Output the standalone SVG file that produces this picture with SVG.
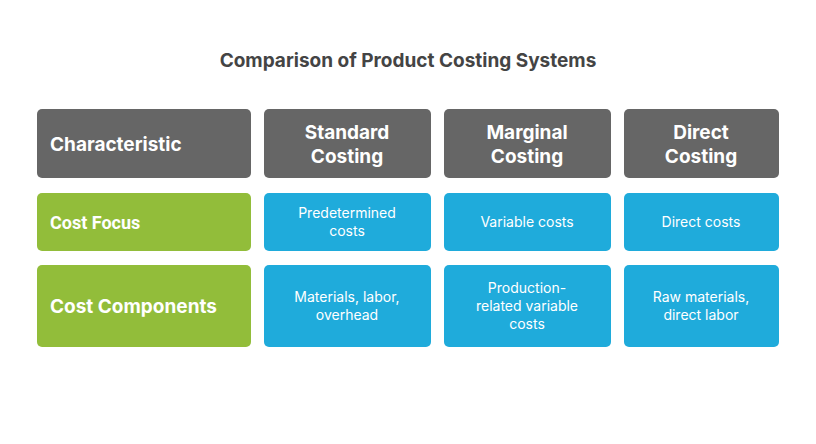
<svg xmlns="http://www.w3.org/2000/svg" width="816" height="444" viewBox="0 0 816 444">
<style>
.h{fill:#666666}.g{fill:#92bd3a}.b{fill:#1fabdb}
text{font-family:Inter,"Open Sans",sans-serif;fill:#fff}
.ht{font-size:19px;font-weight:700;text-anchor:middle}
.lt{font-size:19px;font-weight:700}
.bt{font-size:14px;text-anchor:middle}
</style>
<rect width="816" height="444" fill="#fff"/>
<text x="408" y="67" style="font-size:19px;font-weight:700;fill:#444;text-anchor:middle">Comparison of Product Costing Systems</text>
<g id="h1"><rect class="h" x="37" y="109" width="214" height="69" rx="5"/><text class="lt" x="50" y="151">Characteristic</text></g>
<g id="h2"><rect class="h" x="264" y="109" width="167" height="69" rx="5"/><text class="ht" x="347" y="139">Standard</text><text class="ht" x="347" y="163">Costing</text></g>
<g id="h3"><rect class="h" x="444" y="109" width="167" height="69" rx="5"/><text class="ht" x="527" y="139">Marginal</text><text class="ht" x="527" y="163">Costing</text></g>
<g id="h4"><rect class="h" x="624" y="109" width="155" height="69" rx="5"/><text class="ht" x="701" y="139">Direct</text><text class="ht" x="701" y="163">Costing</text></g>
<g id="r1"><rect class="g" x="37" y="193" width="214" height="58" rx="5"/><text class="lt" x="50" y="229" style="font-size:18px;font-family:Roboto,sans-serif">Cost Focus</text></g>
<g id="r1c2"><rect class="b" x="264" y="193" width="167" height="58" rx="5"/><text class="bt" x="347" y="218">Predetermined</text><text class="bt" x="347" y="236">costs</text></g>
<g id="r1c3"><rect class="b" x="444" y="193" width="167" height="58" rx="5"/><text class="bt" x="527" y="227">Variable costs</text></g>
<g id="r1c4"><rect class="b" x="624" y="193" width="155" height="58" rx="5"/><text class="bt" x="701" y="227">Direct costs</text></g>
<g id="r2"><rect class="g" x="37" y="265" width="214" height="82" rx="5"/><text class="lt" x="50" y="313">Cost Components</text></g>
<g id="r2c2"><rect class="b" x="264" y="265" width="167" height="82" rx="5"/><text class="bt" x="347" y="302">Materials, labor,</text><text class="bt" x="347" y="320">overhead</text></g>
<g id="r2c3"><rect class="b" x="444" y="265" width="167" height="82" rx="5"/><text class="bt" x="527" y="293">Production-</text><text class="bt" x="527" y="311">related variable</text><text class="bt" x="527" y="329">costs</text></g>
<g id="r2c4"><rect class="b" x="624" y="265" width="155" height="82" rx="5"/><text class="bt" x="701" y="302">Raw materials,</text><text class="bt" x="701" y="320">direct labor</text></g>
<g id="connectors"/>
</svg>
